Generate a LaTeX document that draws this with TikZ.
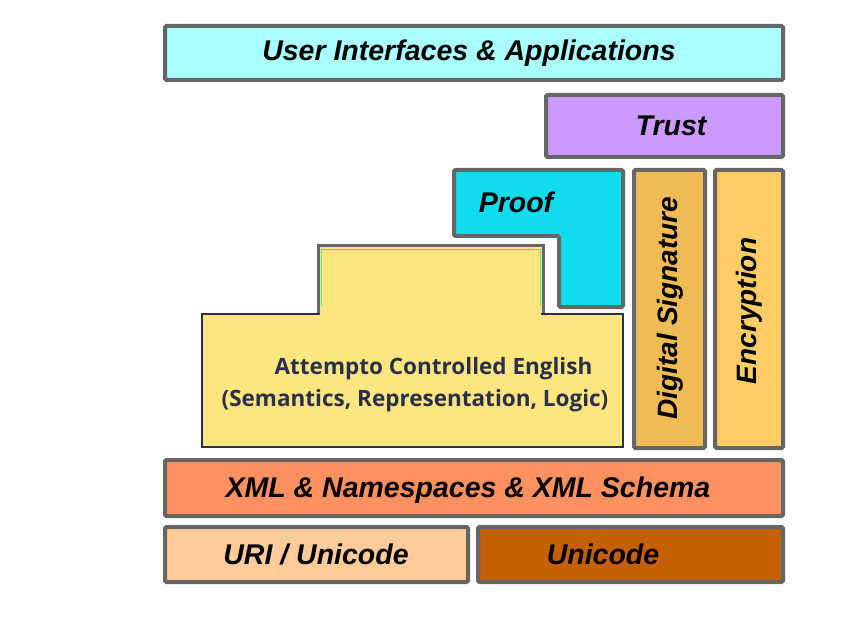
\documentclass[tikz,border=0pt]{standalone}
\usepackage{fontspec}
\setmainfont{Liberation Sans}
\newfontfamily\acefont{Open Sans}
\definecolor{edge}{HTML}{666666}
\definecolor{uicol}{HTML}{AAFFFF}
\definecolor{trustcol}{HTML}{CC99FF}
\definecolor{proofcol}{HTML}{11DDEE}
\definecolor{sigcol}{HTML}{EEBB55}
\definecolor{enccol}{HTML}{FFCC66}
\definecolor{acecol}{HTML}{FDE57F}
\definecolor{acetext}{HTML}{2A2F4A}
\definecolor{xmlcol}{HTML}{FF9060}
\definecolor{uricol}{HTML}{FFCC99}
\definecolor{unicol}{HTML}{C46000}
\definecolor{greenline}{HTML}{33FF88}
\tikzset{
  layer/.style={draw=edge, line width=4pt, rounded corners=1.5pt, inner sep=0pt},
  lbl/.style={font=\fontsize{28.5}{32}\selectfont\bfseries\itshape, text=black, inner sep=0pt},
  vlbl/.style={font=\fontsize{28}{32}\selectfont\bfseries\itshape, text=black, inner sep=0pt, rotate=90},
  acelbl/.style={font=\acefont\fontsize{22.5}{26}\selectfont\bfseries, text=acetext, inner sep=0pt}
}
\begin{document}
\begin{tikzpicture}[x=1pt,y=-1pt]
\useasboundingbox[fill=white] (0,0) rectangle (850,617);
% top layers
\node[layer, fill=uicol, minimum width=618pt, minimum height=54pt] (ui) at (474,53) {};
\node[lbl] (uit) at (469,53) {User Interfaces \& Applications};
\node[layer, fill=trustcol, minimum width=237pt, minimum height=62pt] (trust) at (664.5,126) {};
\node[lbl] (trustt) at (671,126) {Trust};
% proof L-shape
\draw[draw=edge, line width=4pt, fill=proofcol, rounded corners=1.5pt]
  (454,170) -- (623,170) -- (623,307) -- (559,307) -- (559,236) -- (454,236) -- cycle;
\node[lbl] (prooft) at (516,202) {Proof};
% signature and encryption
\node[layer, fill=sigcol, minimum width=71pt, minimum height=278pt] (sig) at (669.5,309) {};
\node[vlbl] (sigt) at (670,308) {Digital Signature};
\node[layer, fill=enccol, minimum width=68pt, minimum height=278pt] (enc) at (749,309) {};
\node[vlbl] (enct) at (749,311) {Encryption};
% ACE block
\fill[acecol] (318,246) rectangle (543,316);
\draw[edge, line width=3pt] (318,316) -- (318,246) -- (543,246) -- (543,316);
\draw[greenline, line width=1pt] (321,306) -- (321,250) -- (540,250) -- (540,306);
\draw[acetext, line width=2pt, fill=acecol] (202,314) rectangle (623,447);
\fill[acecol] (320,310) rectangle (541,318);
\node[acelbl] (ace1) at (433.5,369) {Attempto Controlled English};
\node[acelbl] (ace2) at (415,401) {(Semantics, Representation, Logic)};
% bottom layers
\node[layer, fill=xmlcol, minimum width=618pt, minimum height=56pt] (xml) at (474,488) {};
\node[lbl] (xmlt) at (468,490) {XML \& Namespaces \& XML Schema};
\node[layer, fill=uricol, minimum width=303pt, minimum height=55pt] (uri) at (316.5,554.5) {};
\node[lbl] (urit) at (316,554) {URI / Unicode};
\node[layer, fill=unicol, minimum width=305pt, minimum height=55pt] (uni) at (630.5,554.5) {};
\node[lbl] (unit) at (603,554) {Unicode};
\end{tikzpicture}
\end{document}
